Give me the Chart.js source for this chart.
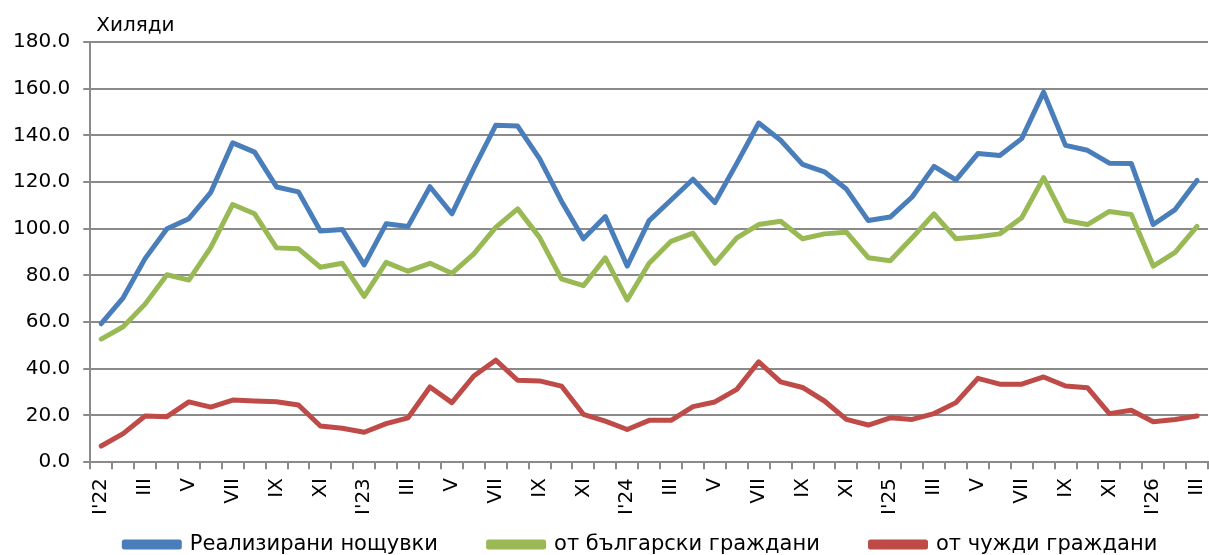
<!DOCTYPE html>
<html>
<head>
<meta charset="utf-8">
<script src="https://cdn.jsdelivr.net/npm/chart.js@4"></script>
<style>
  body { margin: 0; background: #fff; }
</style>
</head>
<body>
<canvas id="nightsChart" width="1209" height="555"></canvas>
<script>
// месеци I'22 .. III'26
var months = [
  "I'22", 'II', 'III', 'IV', 'V', 'VI', 'VII', 'VIII', 'IX', 'X', 'XI', 'XII',
  "I'23", 'II', 'III', 'IV', 'V', 'VI', 'VII', 'VIII', 'IX', 'X', 'XI', 'XII',
  "I'24", 'II', 'III', 'IV', 'V', 'VI', 'VII', 'VIII', 'IX', 'X', 'XI', 'XII',
  "I'25", 'II', 'III', 'IV', 'V', 'VI', 'VII', 'VIII', 'IX', 'X', 'XI', 'XII',
  "I'26", 'II', 'III'
];

var totalNights = [
  59.3, 70.4, 87.2, 100.0, 104.3, 115.6, 136.8, 132.8, 117.9, 115.8, 99.0, 99.7,
  84.5, 102.1, 101.0, 118.0, 106.4, 125.8, 144.3, 144.0, 130.0, 111.8, 95.7, 105.2,
  84.0, 103.5, 112.3, 121.2, 111.2, 128.0, 145.3, 137.9, 127.6, 124.4, 117.0, 103.5,
  105.0, 113.6, 126.7, 120.9, 132.2, 131.4, 138.6, 158.5, 135.7, 133.6, 128.1, 128.0,
  101.8, 108.2, 120.7
];

var bulgarians = [
  52.7, 58.0, 67.7, 80.3, 78.0, 92.0, 110.4, 106.4, 91.8, 91.4, 83.5, 85.2,
  71.0, 85.6, 81.8, 85.2, 80.9, 89.2, 100.6, 108.5, 96.3, 78.5, 75.6, 87.5,
  69.5, 85.2, 94.6, 98.1, 85.2, 96.1, 101.8, 103.2, 95.7, 97.8, 98.5, 87.6,
  86.3, 96.1, 106.4, 95.7, 96.6, 97.8, 104.7, 121.9, 103.5, 101.8, 107.4, 106.1,
  84.0, 89.9, 101.0
];

var foreigners = [
  6.9, 12.2, 19.8, 19.5, 25.8, 23.6, 26.6, 26.2, 25.9, 24.5, 15.5, 14.5,
  12.8, 16.5, 19.0, 32.2, 25.5, 36.9, 43.7, 35.1, 34.8, 32.6, 20.5, 17.6,
  14.0, 17.9, 17.9, 23.8, 25.8, 31.2, 43.0, 34.4, 32.0, 26.2, 18.3, 15.9,
  19.0, 18.3, 20.8, 25.5, 35.9, 33.4, 33.4, 36.5, 32.6, 31.9, 20.8, 22.2,
  17.3, 18.3, 19.8
];

var yMin = 0, yMax = 180, yStep = 20;
var unitLabel = 'Хиляди';

Chart.defaults.font.family = '"DejaVu Sans", Verdana, sans-serif';
Chart.defaults.color = '#000';

// надпис "Хиляди" над оста
var unitPlugin = {
  id: 'unitLabel',
  afterDraw: function (chart) {
    var c = chart.ctx, a = chart.chartArea;
    c.save();
    c.font = '20px "DejaVu Sans", Verdana, sans-serif';
    c.fillStyle = '#000';
    c.textBaseline = 'bottom';
    c.fillText(unitLabel, a.left + 6, a.top - 6);
    c.restore();
  }
};

function series(label, data, color) {
  return {
    label: label,
    data: data,
    borderColor: color,
    backgroundColor: color,
    borderWidth: 5,
    pointRadius: 0,
    tension: 0,
    borderJoinStyle: 'round',
    borderCapStyle: 'round'
  };
}

var ctx = document.getElementById('nightsChart').getContext('2d');
new Chart(ctx, {
  type: 'line',
  data: {
    labels: months,
    datasets: [
      series('Реализирани нощувки', totalNights, '#4a7ebb'),
      series('от български граждани', bulgarians, '#98b954'),
      series('от чужди граждани', foreigners, '#be4b48')
    ]
  },
  options: {
    responsive: false,
    animation: false,
    layout: { padding: { top: 42, right: 1, left: 0, bottom: -10 } },
    plugins: {
      tooltip: { enabled: false },
      legend: {
        position: 'bottom',
        align: 'end',
        labels: {
          font: { size: 21 },
          boxWidth: 55,
          boxHeight: 5,
          padding: 4,
          // по-широк отстъп между елементите на легендата
          generateLabels: function (chart) {
            var items = Chart.defaults.plugins.legend.labels.generateLabels(chart);
            items.forEach(function (it) { it.text = it.text + '\u00a0'.repeat(7); });
            return items;
          }
        }
      }
    },
    scales: {
      x: {
        offset: true,
        afterFit: function (scale) {
          // без допълнително място вдясно за завъртените надписи
          scale.paddingRight = 0;
          scale.paddingLeft = 0;
          scale.height += 6;
        },
        grid: {
          offset: true,
          drawOnChartArea: false,
          color: '#8a8a8a',
          lineWidth: 2,
          tickLength: 7
        },
        border: { color: '#8a8a8a', width: 2 },
        ticks: {
          autoSkip: false,
          minRotation: 90,
          maxRotation: 90,
          padding: 9,
          font: { size: 20 },
          callback: function (v, i) { return i % 2 === 0 ? months[i] : ''; }
        }
      },
      y: {
        min: yMin,
        max: yMax,
        grid: { color: '#8a8a8a', lineWidth: 2, tickLength: 7 },
        border: { color: '#8a8a8a', width: 2 },
        ticks: {
          stepSize: yStep,
          padding: 13,
          font: { size: 20 },
          callback: function (v) { return v.toFixed(1); }
        }
      }
    }
  },
  plugins: [unitPlugin]
});
</script>
</body>
</html>
